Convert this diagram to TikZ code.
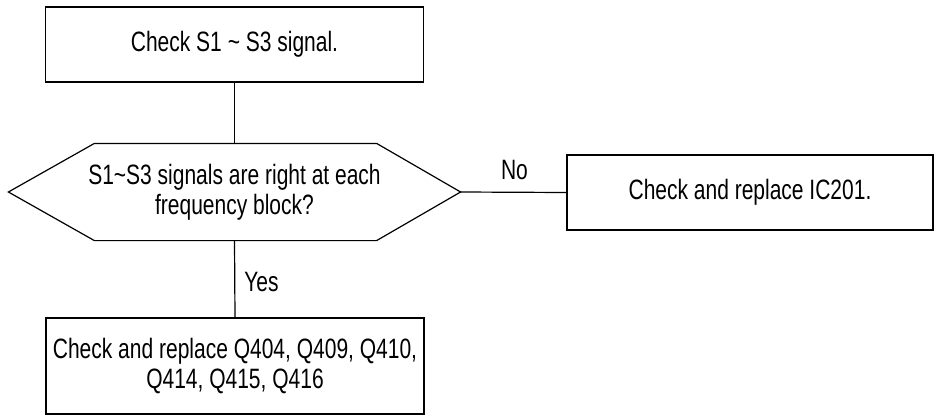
\documentclass[tikz,border=0pt]{standalone}
\usepackage{fontspec}
\setmainfont{Liberation Sans}[FakeStretch=0.75]
\usetikzlibrary{shapes,shapes.geometric,calc}

\begin{document}
\begin{tikzpicture}
		[x=1pt,y=-1pt,-,line width=1.2pt,every node/.style={font=\fontsize{28}{30}\selectfont,
			align=center,inner sep=0pt},
		box/.style={shape=rectangle,draw}]
		\useasboundingbox (0,0) rectangle (934,415);
		\node[box,minimum width=378pt,minimum height=75pt] (start) at (234.5,44.5)
			{Check S1 \textasciitilde{} S3 signal.};
		%%
		\node[minimum width=451pt,minimum height=96pt] (signals) at (234.5,192)
			{S1\textasciitilde S3 signals are right at each\\frequency block?};
		\draw (signals.west) -- ($(signals.north west)+(86,0)$) -- ($(signals.north east)+(-84,0)$)
			-- (signals.east) -- ($(signals.south east)+(-84,0)$) -- ($(signals.south west)+(86,0)$) -- cycle;
		\node[box,minimum width=366pt,minimum height=75pt] (ic) at (750,192.5)
			{Check and replace IC201.};
		\node[box,minimum width=378pt,minimum height=96pt] (parts) at (235,366)
			{Check and replace Q404, Q409, Q410,\\Q414, Q415, Q416};
		%%
		\node (no) at (514.5,170) {No};
		\node (yes) at (261.5,282.5) {Yes};
		\path
		\foreach \startNode/\endNode in {start.south/signals.north,signals.east/ic.west,signals.south/parts.north}
		{
			(\startNode) edge[-] (\endNode)
		};
		\end{tikzpicture}
\end{document}
